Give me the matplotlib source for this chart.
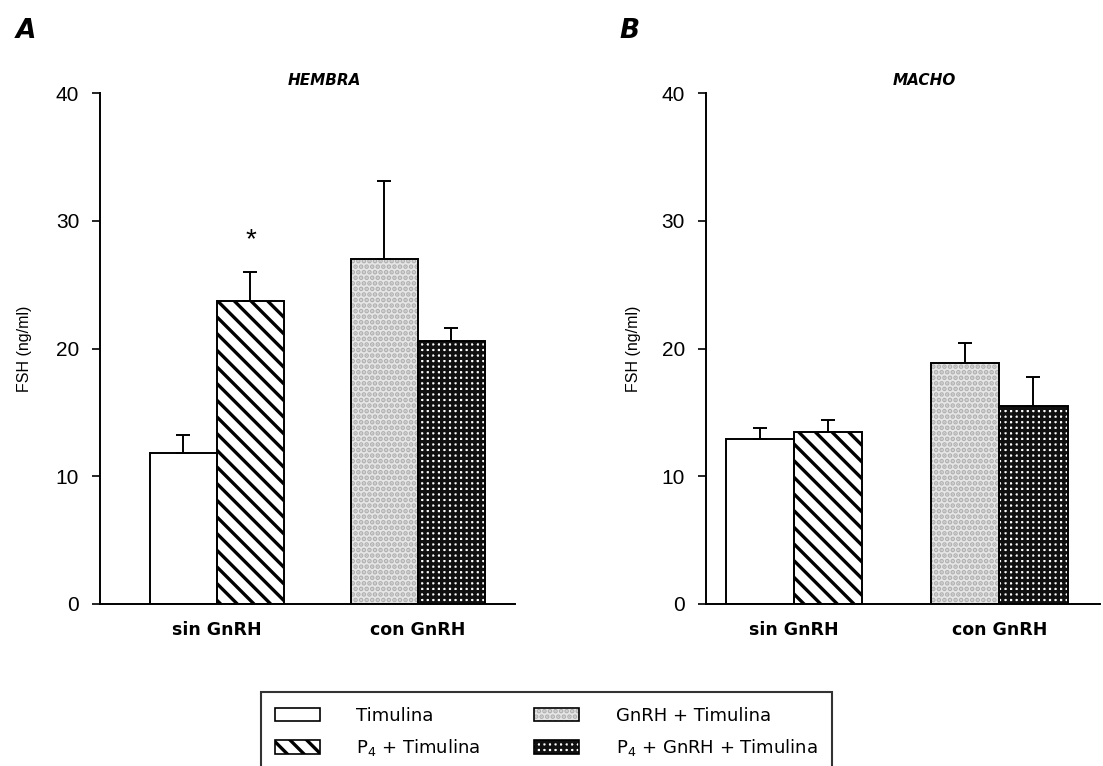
import matplotlib
matplotlib.use("Agg")
import matplotlib.pyplot as plt
from matplotlib.patches import Patch
import numpy as np

groups = ["sin GnRH", "con GnRH"]
series = ["Timulina", "P$_4$ + Timulina", "GnRH + Timulina", "P$_4$ + GnRH + Timulina"]

# FSH means and SEM, [sin GnRH, con GnRH]
hembra_mean = {"Timulina": [11.8, 27.0], "P4": [23.7, 20.6]}
hembra_sem = {"Timulina": [1.4, 6.1], "P4": [2.3, 1.0]}
macho_mean = {"Timulina": [12.9, 18.9], "P4": [13.5, 15.5]}
macho_sem = {"Timulina": [0.9, 1.5], "P4": [0.9, 2.3]}

yticks = [0, 10, 20, 30, 40]

plt.rcParams['hatch.linewidth'] = 2.4
plt.rcParams['font.family'] = ['Liberation Sans', 'DejaVu Sans']

# style per series: (face, hatch, hatch colour)
styles = [
    ("white", "", "black"),
    ("white", "\\\\", "black"),
    ("#e6e6e6", "...", "#b0b0b0"),
    ("white", "+++", "#101010"),
]


def draw_bar(ax, x, h, w, style):
    face, hatch, hcol = style
    ax.bar(x, h, w, color=face, edgecolor=hcol, hatch=hatch, linewidth=0, zorder=2)
    ax.bar(x, h, w, fill=False, edgecolor="black", linewidth=1.4, zorder=3)


def panel(ax, mean, sem, title, xlim, title_x):
    w = 1 / 3
    # sin GnRH: Timulina, P4 + Timulina ; con GnRH: GnRH + Timulina, P4 + GnRH + Timulina
    vals = [mean["Timulina"][0], mean["P4"][0], mean["Timulina"][1], mean["P4"][1]]
    errs = [sem["Timulina"][0], sem["P4"][0], sem["Timulina"][1], sem["P4"][1]]
    xs = [0 - w / 2, 0 + w / 2, 1 - w / 2, 1 + w / 2]
    for i in range(4):
        draw_bar(ax, xs[i], vals[i], w, styles[i])
    ax.errorbar(xs, vals, yerr=[np.zeros(4), errs], fmt="none", ecolor="black",
                elinewidth=1.4, capsize=5, capthick=1.4, zorder=4)

    ax.set_ylim(0, 40)
    ax.set_xlim(*xlim)
    ax.set_yticks(yticks)
    ax.set_xticks([0, 1])
    ax.set_xticklabels(groups, fontsize=12.5, fontweight="bold", family="DejaVu Sans")
    ax.tick_params(axis="x", length=0, pad=12)
    ax.tick_params(axis="y", length=6, width=1.2, labelsize=15, pad=9)
    for s in ["top", "right"]:
        ax.spines[s].set_visible(False)
    ax.spines["left"].set_linewidth(1.4)
    ax.spines["bottom"].set_linewidth(1.4)
    ax.set_ylabel("FSH (ng/ml)", fontsize=11.5)
    ax.yaxis.set_label_coords(-0.165, 0.5)
    ax.text(title_x, 1.01, title, transform=ax.transAxes, ha="center", va="bottom",
            fontsize=11, fontweight="bold", fontstyle="italic", family="DejaVu Sans")
    return xs, vals, errs


fig = plt.figure(figsize=(11.03, 7.66), dpi=100)
ax1 = fig.add_axes([0.0907, 0.2115, 0.376, 0.667])
ax2 = fig.add_axes([0.640, 0.2115, 0.357, 0.667])

xs, vals, errs = panel(ax1, hembra_mean, hembra_sem, "HEMBRA", (-0.582, 1.483), 0.542)
ax1.text(xs[1], 28.5, "*", ha="center", va="center", fontsize=20)
panel(ax2, macho_mean, macho_sem, "MACHO", (-0.43, 1.49), 0.556)

fig.text(0.014, 0.96, "A", fontsize=19, fontweight="bold", fontstyle="italic",
         family="DejaVu Sans", va="center")
fig.text(0.562, 0.96, "B", fontsize=19, fontweight="bold", fontstyle="italic",
         family="DejaVu Sans", va="center")

handles = []
for st in styles:
    fill = Patch(facecolor=st[0], edgecolor=st[2], hatch=st[1], linewidth=0)
    edge = Patch(fill=False, edgecolor="black", linewidth=1.2)
    handles.append((fill, edge))
leg = fig.legend(handles, series, ncol=2,
                 loc="upper left", bbox_to_anchor=(0.228, 0.108),
                 frameon=True, fancybox=False, edgecolor="black", handlelength=2.5,
                 handleheight=0.8, columnspacing=3.0, handletextpad=2.0,
                 borderpad=0.8, labelspacing=0.7,
                 prop={"family": "DejaVu Sans", "size": 13})
leg.get_frame().set_linewidth(1.5)

fig.savefig("out.png", dpi=100)
